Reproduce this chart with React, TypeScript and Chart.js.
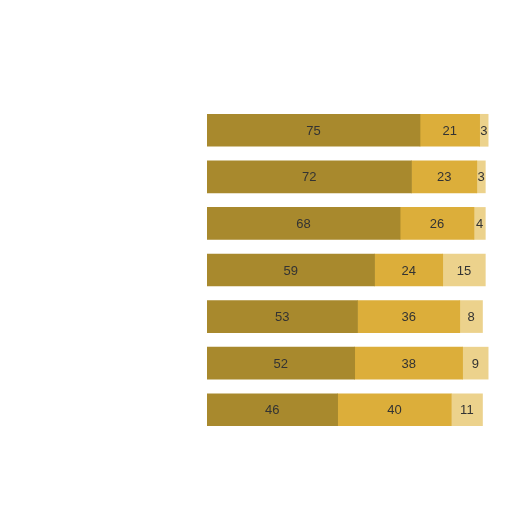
import { useEffect, useRef } from "react";
import { Chart, registerables, Plugin } from "chart.js";

Chart.register(...registerables);

// category labels are not legible in the reference, kept blank
const categories = ["", "", "", "", "", "", ""];
const firstValues = [75, 72, 68, 59, 53, 52, 46];
const secondValues = [21, 23, 26, 24, 36, 38, 40];
const thirdValues = [3, 3, 4, 15, 8, 9, 11];

const colors = ["#a8892d", "#dcae3a", "#ecd28c"];

const segmentLabels: Plugin<"bar"> = {
  id: "segmentLabels",
  afterDatasetsDraw(chart) {
    const ctx = chart.ctx;
    ctx.save();
    ctx.font = "13px 'Liberation Sans', Arial, sans-serif";
    ctx.fillStyle = "#333333";
    ctx.textAlign = "center";
    ctx.textBaseline = "middle";
    chart.data.datasets.forEach((ds, i) => {
      const meta = chart.getDatasetMeta(i);
      meta.data.forEach((bar: any, j) => {
        const v = ds.data[j] as number;
        const x = (bar.x + bar.base) / 2;
        ctx.fillText(String(v), x, bar.y + 1);
      });
    });
    ctx.restore();
  },
};

export default function App() {
  const chartRef = useRef<HTMLCanvasElement>(null);
  const chartInstance = useRef<Chart | null>(null);

  useEffect(() => {
    if (!chartRef.current) return;
    document.body.style.margin = "0";
    if (chartInstance.current) chartInstance.current.destroy();

    const ctx = chartRef.current.getContext("2d");
    if (!ctx) return;

    chartInstance.current = new Chart(ctx, {
      type: "bar",
      data: {
        labels: categories,
        datasets: [firstValues, secondValues, thirdValues].map((values, i) => ({
          label: `Series ${i + 1}`,
          data: values,
          backgroundColor: colors[i],
          borderWidth: 0,
          barThickness: 32,
        })),
      },
      options: {
        indexAxis: "y",
        animation: false,
        responsive: false,
        maintainAspectRatio: false,
        layout: {
          padding: { left: 207, right: 21, top: 107, bottom: 79 },
        },
        scales: {
          x: { stacked: true, min: 0, max: 100, display: false },
          y: { stacked: true, display: false },
        },
        plugins: {
          legend: { display: false },
          tooltip: { enabled: false },
        },
      },
      plugins: [segmentLabels],
    });

    return () => {
      if (chartInstance.current) {
        chartInstance.current.destroy();
        chartInstance.current = null;
      }
    };
  }, []);

  return (
    <div style={{ width: 512, height: 512, background: "#ffffff" }}>
      <canvas ref={chartRef} width={512} height={512} />
    </div>
  );
}
